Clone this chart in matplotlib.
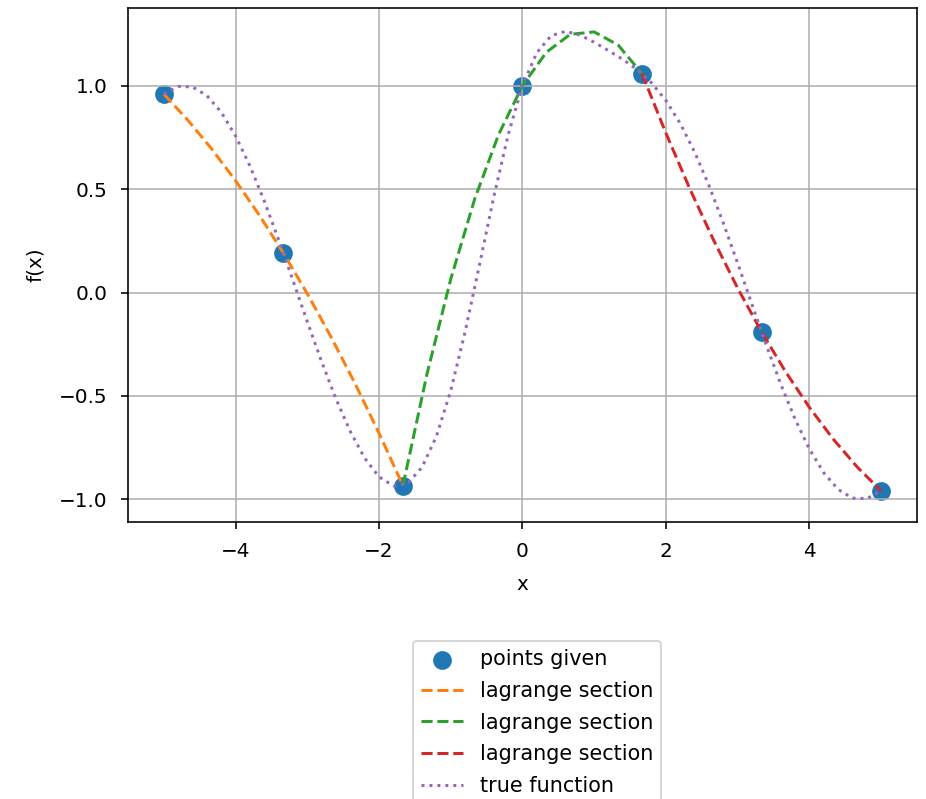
import matplotlib
matplotlib.use("Agg")
import matplotlib.pyplot as plt

# nodes where the function is known
x_points = [-5.0, -3.3333, -1.6667, 0.0, 1.6667, 3.3333, 5.0]
y_points = [0.9589, 0.1905, -0.9332, 1.0, 1.0576, -0.1905, -0.9589]

# piecewise quadratic (lagrange) sections, one per three nodes
sec1_x = [-5.0, -4.6667, -4.3333, -4.0, -3.6667, -3.3333, -3.0, -2.6667, -2.3333, -2.0, -1.6667]
sec1_y = [0.9589, 0.8336, 0.6942, 0.5405, 0.3726, 0.1905, -0.0058, -0.2163, -0.4411, -0.6800, -0.9332]
sec2_x = [-1.6667, -1.3333, -1.0, -0.6667, -0.3333, 0.0, 0.3333, 0.6667, 1.0, 1.3333, 1.6667]
sec2_y = [-0.9332, -0.3965, 0.0652, 0.4518, 0.7634, 1.0, 1.1616, 1.2481, 1.2596, 1.1961, 1.0576]
sec3_x = [1.6667, 2.0, 2.3333, 2.6667, 3.0, 3.3333, 3.6667, 4.0, 4.3333, 4.6667, 5.0]
sec3_y = [1.0576, 0.7696, 0.5008, 0.2512, 0.0207, -0.1905, -0.3826, -0.5554, -0.7091, -0.8436, -0.9589]

# true function sampled on a grid
true_x = [-5.0, -4.8, -4.6, -4.4, -4.2, -4.0, -3.8, -3.6, -3.4, -3.2,
          -3.0, -2.8, -2.6, -2.4, -2.2, -2.0, -1.8, -1.6, -1.4, -1.2,
          -1.0, -0.8, -0.6, -0.4, -0.2, 0.0, 0.2, 0.4, 0.6, 0.8,
          1.0, 1.2, 1.4, 1.6, 1.8, 2.0, 2.2, 2.4, 2.6, 2.8,
          3.0, 3.2, 3.4, 3.6, 3.8, 4.0, 4.2, 4.4, 4.6, 4.8, 5.0]
true_y = [0.9589, 0.9962, 0.9937, 0.9516, 0.8716, 0.7568, 0.6119, 0.4425, 0.2555, 0.0584,
          -0.1411, -0.3346, -0.5143, -0.6723, -0.8006, -0.8910, -0.9346, -0.9223, -0.8445, -0.6951,
          -0.4736, -0.1901, 0.1331, 0.4627, 0.7621, 1.0, 1.1595, 1.2415, 1.2623, 1.2447,
          1.2094, 1.1689, 1.1263, 1.0769, 1.0130, 0.9276, 0.8164, 0.6787, 0.5167, 0.3354,
          0.1411, -0.0584, -0.2555, -0.4425, -0.6119, -0.7568, -0.8716, -0.9516, -0.9937, -0.9962, -0.9589]

fig = plt.figure(figsize=(926 / 144, 799 / 144), dpi=144)
ax = fig.add_axes([0.1382, 0.3467, 0.8521, 0.6433])

ax.scatter(x_points, y_points, s=70, label="points given")
ax.plot(sec1_x, sec1_y, "--", color="tab:orange", label="lagrange section")
ax.plot(sec2_x, sec2_y, "--", color="tab:green", label="lagrange section")
ax.plot(sec3_x, sec3_y, "--", color="tab:red", label="lagrange section")
ax.plot(true_x, true_y, ":", color="tab:purple", label="true function")

ax.set_xlabel("x", labelpad=7)
ax.set_ylabel("f(x)", labelpad=7)
ax.tick_params(pad=6.5)
ax.grid(True)

ax.legend(loc="upper left", bbox_to_anchor=(413 / 926, 1 - 641 / 799),
          bbox_transform=fig.transFigure, borderaxespad=0,
          fontsize=10.4, labelspacing=0.56)

fig.savefig("out.png", dpi=144)
